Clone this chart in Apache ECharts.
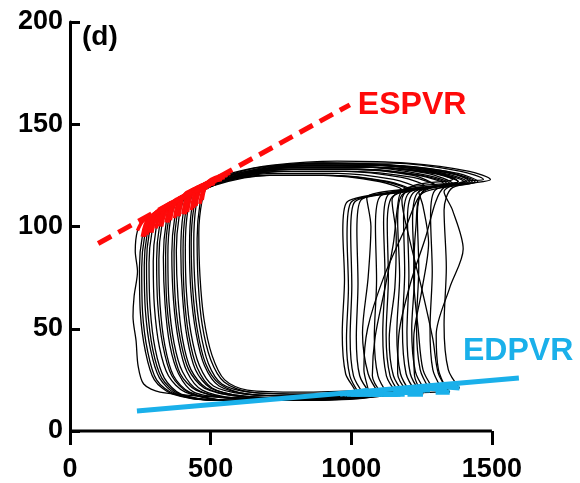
<!DOCTYPE html>
<html><head><meta charset="utf-8">
<script src="https://cdn.jsdelivr.net/npm/echarts@6/dist/echarts.min.js"></script>
<style>html,body{margin:0;padding:0;background:#fff}#c{width:580px;height:483px}</style>
</head><body><div id="c"></div>
<script>
// Pressure-volume loops: [volume, pressure]
const loop01 = [[492,122],[470,113],[458,97],[462,76],[476,55],[505,37],[550,25],[630,20],[820,19],[1060,20],[1290,22],[1385,21],[1345,30],[1330,52],[1338,80],[1330,108],[1360,119],[1495,123],[1420,127],[1200,131],[950,132],[720,130],[570,126],[492,122]];
const loop02 = [[470,120],[448,110],[440,92],[445,70],[462,50],[492,33],[540,23],[640,19],[850,18],[1080,19],[1270,21],[1340,20],[1310,30],[1302,47],[1350,70],[1398,89],[1360,108],[1330,117],[1400,122],[1470,123],[1390,127],[1150,131],[900,131],[700,129],[550,124],[470,120]];
const loop03 = [[455,119],[432,108],[425,90],[430,68],[448,48],[478,32],[530,22],[640,18],[860,17],[1100,18],[1260,21],[1320,21],[1290,30],[1280,50],[1288,78],[1282,105],[1300,118],[1450,122],[1380,126],[1150,130],[900,131],[680,128],[540,123],[455,119]];
const loop04 = [[440,118],[418,107],[410,90],[414,68],[430,48],[460,32],[510,22],[620,18],[800,17],[960,18],[1060,20],[1045,30],[1058,50],[1115,75],[1195,100],[1255,117],[1380,122],[1300,127],[1100,130],[850,130],[650,127],[520,122],[440,118]];
const loop05 = [[425,117],[402,106],[394,88],[400,66],[416,46],[446,30],[500,21],[620,17],[850,16],[1080,17],[1220,20],[1280,20],[1245,30],[1232,52],[1240,80],[1235,106],[1260,118],[1420,122],[1340,127],[1100,130],[850,130],[650,127],[510,121],[425,117]];
const loop06 = [[410,116],[388,105],[378,88],[384,65],[400,45],[430,30],[485,21],[600,17],[850,16],[1100,17],[1300,19],[1350,19],[1310,28],[1290,45],[1250,70],[1205,95],[1180,113],[1220,120],[1360,123],[1280,127],[1050,130],[820,130],[630,126],[500,120],[410,116]];
const loop07 = [[395,114],[372,104],[362,87],[368,64],[386,44],[416,29],[470,20],[590,16],[820,15],[1040,16],[1170,19],[1230,19],[1195,28],[1182,50],[1190,78],[1186,104],[1210,117],[1400,122],[1310,126],[1080,129],[830,129],[630,126],[490,119],[395,114]];
const loop08 = [[380,113],[357,103],[348,86],[352,63],[370,43],[400,29],[455,20],[580,16],[800,16],[1020,17],[1150,19],[1210,19],[1175,28],[1162,48],[1172,76],[1165,103],[1185,116],[1360,121],[1270,126],[1050,129],[800,129],[600,125],[470,118],[380,113]];
const loop09 = [[365,112],[342,102],[332,85],[338,62],[355,42],[386,28],[440,19],[570,16],[800,15],[1010,16],[1130,18],[1190,18],[1150,27],[1135,45],[1155,70],[1160,95],[1145,113],[1200,119],[1380,122],[1290,126],[1050,129],[800,129],[590,125],[455,117],[365,112]];
const loop10 = [[350,110],[326,100],[316,84],[320,62],[337,42],[368,27],[425,19],[560,15],[790,15],[990,16],[1105,18],[1165,18],[1125,27],[1112,48],[1120,76],[1115,102],[1135,116],[1330,121],[1240,125],[1020,128],[780,128],[580,124],[440,116],[350,110]];
const loop11 = [[330,109],[306,99],[296,83],[300,61],[318,41],[350,27],[410,19],[550,15],[780,15],[960,16],[1075,18],[1130,18],[1095,27],[1082,46],[1090,74],[1086,100],[1105,115],[1300,120],[1220,125],[1000,128],[760,128],[560,123],[420,115],[330,109]];
const loop12 = [[315,107],[291,97],[281,82],[285,60],[303,40],[335,26],[395,18],[540,15],[770,15],[940,16],[1045,18],[1100,18],[1060,28],[1040,48],[1060,75],[1070,100],[1055,114],[1260,120],[1180,124],[980,127],[740,127],[540,122],[400,113],[315,107]];
const loop13 = [[298,106],[274,96],[264,81],[268,59],[286,40],[318,26],[380,18],[530,15],[760,15],[920,16],[1015,18],[1070,18],[1030,27],[1018,46],[1024,72],[1020,98],[1035,113],[1230,119],[1150,123],[950,126],[720,126],[520,121],[385,112],[298,106]];
const loop14 = [[280,104],[257,95],[247,80],[250,58],[268,39],[300,25],[365,18],[520,15],[750,15],[900,16],[985,18],[1030,18],[995,27],[983,45],[990,70],[985,96],[1000,112],[1200,118],[1120,122],[920,125],[700,125],[500,120],[370,110],[280,104]];
const loop15 = [[262,103],[240,98],[232,88],[240,78],[228,66],[224,56],[235,44],[242,32],[262,23],[320,19],[480,17],[700,16],[880,16],[975,18],[1015,19],[980,28],[968,48],[976,74],[970,98],[985,112],[1180,118],[1100,122],[900,125],[680,125],[480,119],[350,109],[262,103]];
const loop16 = [[485,121],[462,111],[452,94],[456,72],[470,52],[500,35],[548,24],[640,19],[850,18],[1070,19],[1230,21],[1290,21],[1255,30],[1238,50],[1222,75],[1230,100],[1250,116],[1440,122],[1360,126],[1130,130],[880,131],[680,129],[560,125],[485,121]];
const loop17 = [[462,119],[440,109],[431,92],[436,70],[452,50],[482,33],[532,23],[630,18],[840,17],[1060,18],[1205,20],[1262,20],[1228,29],[1215,50],[1225,76],[1218,103],[1240,117],[1410,122],[1330,126],[1100,130],[870,131],[670,128],[540,124],[462,119]];
const loop18 = [[432,117],[410,106],[402,89],[406,67],[422,47],[452,31],[505,21],[620,17],[840,16],[1050,17],[1150,19],[1200,19],[1165,28],[1170,48],[1210,72],[1265,95],[1300,112],[1330,119],[1430,122],[1350,126],[1120,130],[870,130],[660,127],[515,121],[432,117]];
const loop19 = [[402,115],[380,105],[370,88],[374,65],[392,45],[422,30],[478,21],[600,17],[830,16],[1050,17],[1185,19],[1245,19],[1210,28],[1198,48],[1205,76],[1200,104],[1225,117],[1380,122],[1300,126],[1080,129],[840,130],[640,126],[500,120],[402,115]];
const loop20 = [[372,112],[349,102],[340,86],[344,63],[362,43],[392,28],[448,20],[575,16],[800,15],[1030,16],[1200,18],[1255,18],[1225,27],[1222,45],[1250,68],[1275,92],[1255,110],[1240,117],[1350,121],[1270,125],[1050,129],[800,129],[600,125],[465,118],[372,112]];
const loop21 = [[342,110],[318,100],[308,84],[312,62],[330,42],[362,27],[420,19],[555,15],[785,15],[985,16],[1115,18],[1175,18],[1138,27],[1124,47],[1132,75],[1128,101],[1150,115],[1340,121],[1250,125],[1030,128],[790,128],[585,124],[445,116],[342,110]];
const loop22 = [[306,107],[282,97],[272,82],[276,60],[294,40],[326,26],[388,18],[535,15],[765,15],[960,16],[1060,18],[1110,18],[1075,27],[1085,46],[1120,70],[1150,92],[1165,110],[1180,117],[1300,120],[1220,124],[1000,127],[760,127],[545,122],[395,113],[306,107]];
const loop23 = [[288,105],[265,95],[255,80],[258,58],[276,39],[308,25],[372,18],[525,15],[755,15],[910,16],[998,18],[1045,18],[1008,27],[996,46],[1002,71],[998,97],[1012,112],[1210,118],[1130,122],[935,125],[710,125],[510,120],[378,111],[288,105]];
const loops = [loop01,loop02,loop03,loop04,loop05,loop06,loop07,loop08,loop09,loop10,loop11,loop12,
  loop13,loop14,loop15,loop16,loop17,loop18,loop19,loop20,loop21,loop22,loop23];

// Relations: [volume, pressure]
const espvr = [[100,91.7],[995,159.5]];
const edpvr = [[238,9.8],[1596,25.9]];

// Axes
const xTicks = [0, 500, 1000, 1500];
const xMin = 0, xMax = 1600;          // scale runs a little past the last tick for EDPVR
const yMin = 0, yMax = 200, yStep = 50;
const panelLabel = '(d)';
const espvrLabel = 'ESPVR';
const edpvrLabel = 'EDPVR';

const FONT = '"Liberation Sans", Arial, sans-serif';
const RED = '#ff0a0a';
const CYAN = '#1ab0ea';

const series = [];
loops.forEach(function (lp) {
  series.push({type:'line', data: lp, symbol:'none', smooth:0.3, silent:true,
    lineStyle:{color:'#000', width:1.3}, z:2});
});
// end-systolic markings (around each loop's first point)
loops.forEach(function (lp) {
  const n = lp.length;
  series.push({type:'line', data:[lp[n-2], lp[0], lp[1]], symbol:'none', smooth:0.3, silent:true,
    lineStyle:{color:RED, width:3.5}, z:3});
});
// end-diastolic markings (bottom-right corner of each loop)
loops.forEach(function (lp) {
  let best = -1;
  lp.forEach(function (p, i) { if (p[1] < 25 && (best < 0 || p[0] > lp[best][0])) best = i; });
  series.push({type:'line', data:[lp[best-1], lp[best]], symbol:'none', silent:true,
    lineStyle:{color:CYAN, width:5}, z:3});
});
series.push({type:'line', data: espvr, symbol:'none', silent:true, clip:false,
  lineStyle:{color:RED, width:5, type:[15,8]}, z:5,
  endLabel:{show:true, formatter: espvrLabel, color:RED, fontFamily:FONT, fontWeight:'bold', fontSize:32, distance:8}});
series.push({type:'line', data: edpvr, symbol:'none', silent:true, clip:false,
  lineStyle:{color:CYAN, width:5}, z:5});
// visible x axis line, from the first to the last tick
series.push({type:'line', data:[[xTicks[0], yMin],[xTicks[xTicks.length-1], yMin]], symbol:'none', silent:true, clip:false,
  lineStyle:{color:'#000', width:3}, z:6});

const chart = echarts.init(document.getElementById('c'), null, {renderer:'canvas'});
chart.setOption({
  animation:false,
  backgroundColor:'#fff',
  grid:{left:70, right:60, top:22, bottom:51, containLabel:false},
  xAxis:{type:'value', min:xMin, max:xMax, interval:500,
    axisLine:{show:false},
    axisTick:{show:true, customValues:xTicks, length:14, lineStyle:{color:'#000', width:3}},
    splitLine:{show:false},
    axisLabel:{customValues:xTicks, formatter:function(v){return String(v);}, color:'#000', fontFamily:FONT, fontWeight:'bold', fontSize:27, margin:25}},
  yAxis:{type:'value', min:yMin, max:yMax, interval:yStep,
    axisLine:{show:true, lineStyle:{color:'#000', width:3}},
    axisTick:{show:true, inside:true, length:10, lineStyle:{color:'#000', width:3}},
    splitLine:{show:false},
    axisLabel:{color:'#000', fontFamily:FONT, fontWeight:'bold', fontSize:27, margin:7}},
  graphic:[
    {type:'text', left:82, top:23, style:{text:panelLabel, fill:'#000', font:'bold 28px ' + FONT}},
    {type:'text', left:463, top:335, style:{text:edpvrLabel, fill:CYAN, font:'bold 32px ' + FONT}}
  ],
  series: series
});
</script></body></html>
